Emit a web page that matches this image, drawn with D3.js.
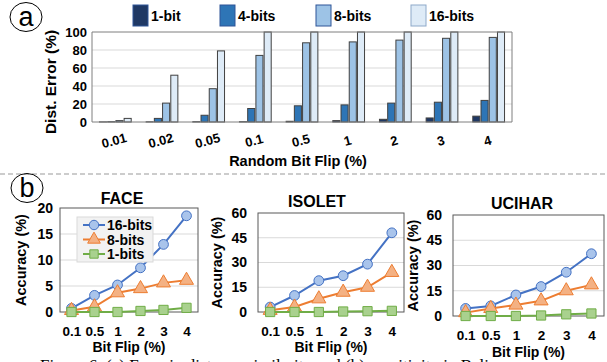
<!DOCTYPE html>
<html>
<head>
<meta charset="utf-8">
<script src="https://cdn.jsdelivr.net/npm/d3@7"></script>
<style>
  body { margin: 0; background: #fff; }
  svg { font-family: "Liberation Sans", Arial, sans-serif; }
  .tick text { font-weight: bold; fill: #000; }
</style>
</head>
<body>
<svg id="chart" width="607" height="362"></svg>
<script>
//======
// Data
//======

// (a) distance error vs random bit flip
const flipRates = ["0.01", "0.02", "0.05", "0.1", "0.5", "1", "2", "3", "4"];
const bitSeries = ["1-bit", "4-bits", "8-bits", "16-bits"];
const err1bit  = [0.1, 0.2, 0.3, 0.3, 0.8, 1.5, 3, 4.5, 6.5];
const err4bit  = [0.3, 4, 7.5, 15, 18, 19, 21, 22, 24];
const err8bit  = [1.5, 21, 37, 74, 88, 89, 91, 93, 94];
const err16bit = [4, 52, 79, 100, 100, 100, 100, 100, 100];
const errTicks = [0, 20, 40, 60, 80, 100];

// (b) accuracy loss vs bit flip
const accFlips = ["0.1", "0.5", "1", "2", "3", "4"];
const accSeries = ["16-bits", "8-bits", "1-bits"];
const face16 = [0.7, 3.2, 5.2, 8.5, 13, 18.5];
const face8  = [0.3, 1.0, 3.7, 4.5, 5.6, 6.1];
const face1  = [0, 0, 0, 0.2, 0.4, 0.8];
const isolet16 = [3, 10, 19, 22, 29, 48];
const isolet8  = [1, 3, 8, 12, 15, 24];
const isolet1  = [0, 0, 0, 0.3, 0.5, 0.7];
const ucihar16 = [4.5, 6, 12.5, 17.5, 26, 37];
const ucihar8  = [2, 4.5, 6.5, 9, 15, 18.5];
const ucihar1  = [0, 0, 0, 0.3, 1, 1.5];
const faceTicks = [0, 5, 10, 15, 20];
const wideTicks = [0, 15, 30, 45, 60];

const svg = d3.select("#chart");

//===========
// Panel (a)
//===========
var barFill = ["#1f3864", "#2e75b6", "#9dc3e6", "#deebf7"];
var errData = flipRates.map(function(f, i) {
  return [err1bit[i], err4bit[i], err8bit[i], err16bit[i]];
});

var aL = 92, aR = 512, aT = 32, aB = 122;

var x0 = d3.scaleBand().domain(flipRates).range([aL, aR])
  .paddingInner(0.32).paddingOuter(0.16);
var x1 = d3.scaleBand().domain(d3.range(4)).range([0, x0.bandwidth()]).paddingInner(0.14);
var yErr = d3.scaleLinear().domain([0, 100]).range([aB, aT]);

// grid
svg.append("g").selectAll("line").data(errTicks.slice(1, -1)).enter().append("line")
  .attr("x1", aL).attr("x2", aR)
  .attr("y1", d => yErr(d)).attr("y2", d => yErr(d))
  .attr("stroke", "#d9d9d9");

svg.append("g").selectAll("g").data(errData).enter().append("g")
  .attr("transform", (d, i) => "translate(" + x0(flipRates[i]) + ",0)")
  .selectAll("rect").data(d => d).enter().append("rect")
  .attr("x", (d, j) => x1(j))
  .attr("width", x1.bandwidth())
  .attr("y", d => yErr(d))
  .attr("height", d => aB - yErr(d))
  .attr("fill", (d, j) => barFill[j])
  .attr("stroke", "#404040")
  .attr("stroke-width", 1);

// frame
svg.append("path")
  .attr("d", "M" + aL + "," + aB + "V" + aT + "H" + aR + "V" + aB)
  .attr("fill", "none").attr("stroke", "#7f7f7f");
svg.append("line").attr("x1", aL).attr("x2", aR)
  .attr("y1", aB).attr("y2", aB).attr("stroke", "#7f7f7f");

var yAxA = svg.append("g").attr("transform", "translate(" + aL + ",0)")
  .call(d3.axisLeft(yErr).tickValues(errTicks).tickSize(0).tickPadding(5));
yAxA.select(".domain").remove();
yAxA.selectAll("text").style("font-size", "13px");

var xAxA = svg.append("g").attr("transform", "translate(0," + aB + ")")
  .call(d3.axisBottom(x0).tickSize(0));
xAxA.select(".domain").remove();
xAxA.selectAll("text")
  .style("font-size", "13px")
  .attr("y", 0).attr("dy", 0)
  .attr("transform", "translate(0,23) rotate(-15)");

svg.append("text").attr("x", 298).attr("y", 166)
  .attr("text-anchor", "middle").style("font-size", "14.5px").style("font-weight", "bold")
  .text("Random Bit Flip (%)");
svg.append("text").attr("transform", "translate(56,82) rotate(-90)")
  .attr("text-anchor", "middle").style("font-size", "15.5px").style("font-weight", "bold")
  .text("Dist. Error (%)");

// legend
var legX = [133, 220, 316, 411];
var legA = svg.append("g").selectAll("g").data(bitSeries).enter().append("g")
  .attr("transform", (d, i) => "translate(" + legX[i] + ",5)");
legA.append("rect").attr("width", 15).attr("height", 21)
  .attr("fill", (d, i) => barFill[i]).attr("stroke", (d, i) => i == 3 ? "#8ea9c9" : "#2e5597");
legA.append("text").attr("x", 18).attr("y", 16)
  .style("font-size", "14px").style("font-weight", "bold").text(d => d);

// circled letter
function circled(cx, cy, letter) {
  svg.append("ellipse").attr("cx", cx).attr("cy", cy).attr("rx", 16).attr("ry", 14.5)
    .attr("fill", "none").attr("stroke", "#000");
  svg.append("text").attr("x", cx).attr("y", cy + 9).attr("text-anchor", "middle")
    .style("font-size", "27px").text(letter);
}
circled(26, 17, "a");

// separator
svg.append("line").attr("x1", 0).attr("x2", 607).attr("y1", 174).attr("y2", 174)
  .attr("stroke", "#999").attr("stroke-dasharray", "5,3");

circled(27, 188, "b");

//===========
// Panel (b)
//===========
var lineCol = ["#4472c4", "#ed7d31", "#70ad47"];
var markFill = ["#a9c4eb", "#f4b183", "#a9d18e"];
var markSym = [d3.symbolCircle, d3.symbolTriangle, d3.symbolSquare];

var panels = [
  { title: "FACE", series: [face16, face8, face1], ticks: faceTicks,
    l: 60, r: 198, t: 208, b: 312, titleX: 122, titleY: 204, yTitleX: 26, xTitleY: 352, legend: true },
  { title: "ISOLET", series: [isolet16, isolet8, isolet1], ticks: wideTicks,
    l: 258, r: 404, t: 213, b: 312, titleX: 317, titleY: 207, yTitleX: 222, xTitleY: 352 },
  { title: "UCIHAR", series: [ucihar16, ucihar8, ucihar1], ticks: wideTicks,
    l: 453, r: 604, t: 215, b: 316, titleX: 522, titleY: 209, yTitleX: 418, xTitleY: 357 }
];

panels.forEach(function(p) {
  var g = svg.append("g");
  var x = d3.scalePoint().domain(accFlips).range([p.l, p.r]).padding(0.5);
  var y = d3.scaleLinear().domain([0, p.ticks[p.ticks.length - 1]]).range([p.b, p.t]);

  g.append("g").selectAll("line").data(p.ticks.slice(1, -1)).enter().append("line")
    .attr("x1", p.l).attr("x2", p.r)
    .attr("y1", d => y(d)).attr("y2", d => y(d))
    .attr("stroke", "#d9d9d9");
  g.append("rect").attr("x", p.l).attr("y", p.t)
    .attr("width", p.r - p.l).attr("height", p.b - p.t)
    .attr("fill", "none").attr("stroke", "#595959");

  var yAx = g.append("g").attr("transform", "translate(" + p.l + ",0)")
    .call(d3.axisLeft(y).tickValues(p.ticks).tickSize(0).tickPadding(p.legend ? 7 : 11));
  yAx.select(".domain").remove();
  yAx.selectAll("text").style("font-size", "14px");

  var xAx = g.append("g").attr("transform", "translate(0," + p.b + ")")
    .call(d3.axisBottom(x).tickSize(0).tickPadding(14));
  xAx.select(".domain").remove();
  xAx.selectAll("text").style("font-size", "13.5px");

  g.append("text").attr("x", p.titleX).attr("y", p.titleY).attr("text-anchor", "middle")
    .style("font-size", "16px").style("font-weight", "bold").text(p.title);
  g.append("text").attr("x", (p.l + p.r) / 2).attr("y", p.xTitleY).attr("text-anchor", "middle")
    .style("font-size", "14px").style("font-weight", "bold").text("Bit Flip (%)");
  g.append("text").attr("transform", "translate(" + p.yTitleX + "," + ((p.t + p.b) / 2) + ") rotate(-90)")
    .attr("text-anchor", "middle").style("font-size", "14.5px").style("font-weight", "bold")
    .text("Accuracy (%)");

  var line = d3.line().x((d, i) => x(accFlips[i])).y(d => y(d));
  p.series.forEach(function(s, k) {
    g.append("path").datum(s).attr("d", line)
      .attr("fill", "none").attr("stroke", lineCol[k]).attr("stroke-width", 2);
    g.append("g").selectAll("path").data(s).enter().append("path")
      .attr("transform", (d, i) => "translate(" + x(accFlips[i]) + "," + y(d) + ")")
      .attr("d", d3.symbol().type(markSym[k]).size(k == 0 ? 75 : 85))
      .attr("fill", markFill[k]).attr("stroke", lineCol[k]).attr("stroke-width", 1);
  });

  if (p.legend) {
    var lg = g.append("g").attr("transform", "translate(77,217)");
    lg.append("rect").attr("width", 76).attr("height", 45)
      .attr("fill", "#f2f2f2").attr("stroke", "#d9d9d9");
    var item = lg.selectAll("g.item").data(accSeries).enter().append("g")
      .attr("transform", (d, i) => "translate(0," + (8 + i * 14.5) + ")");
    item.append("line").attr("x1", 6).attr("x2", 28)
      .attr("stroke", (d, i) => lineCol[i]).attr("stroke-width", 2);
    item.append("path").attr("transform", "translate(17,0)")
      .attr("d", (d, i) => d3.symbol().type(markSym[i]).size(70)())
      .attr("fill", (d, i) => markFill[i]).attr("stroke", (d, i) => lineCol[i]);
    item.append("text").attr("x", 30).attr("y", 5)
      .style("font-size", "14px").style("font-weight", "bold").text(d => d);
  }
});

// caption, cut off by the bottom edge
svg.append("text").attr("x", 40).attr("y", 371)
  .style("font-family", "'Liberation Serif', serif").style("font-size", "17px")
  .text("Figure 6:  (a)  Error in distance similarity and (b) sensitivity in Bali");
</script>
</body>
</html>
